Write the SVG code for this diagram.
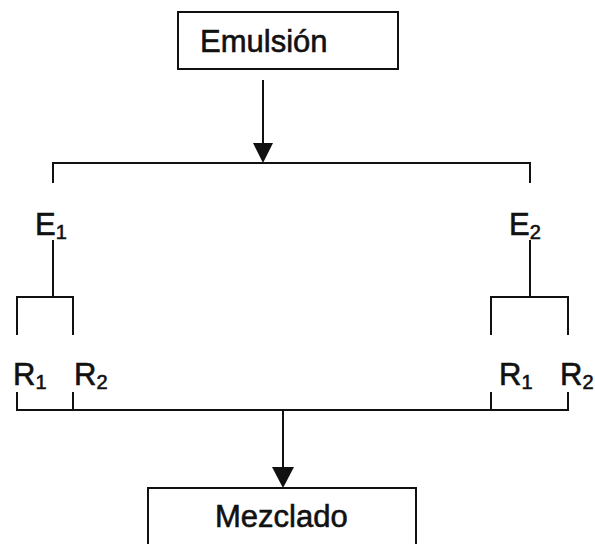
<svg xmlns="http://www.w3.org/2000/svg" width="595" height="544" viewBox="0 0 595 544">
  <style>
    .box { fill: #fff; stroke: #111; stroke-width: 2; }
    .ln { fill: none; stroke: #111; stroke-width: 2; }
    .t { font-family: "Liberation Sans", Arial, sans-serif; font-size: 31px; fill: #111; stroke: #111; stroke-width: 0.6; }
    .sub { font-size: 20px; }
  </style>
  <rect width="595" height="544" fill="#fff"/>

  <!-- connectors -->
  <g id="connectors">
    <!-- top arrow into the split bar -->
    <line class="ln" x1="263" y1="80" x2="263" y2="143"/>
    <path d="M253,143 L273,143 L263,163 Z" fill="#111"/>
    <!-- split into E1 / E2 -->
    <path class="ln" d="M53,183 V163 H530 V183"/>
    <!-- E1 branch -->
    <line class="ln" x1="53" y1="240" x2="53" y2="297"/>
    <path class="ln" d="M17,335 V297 H73 V335"/>
    <!-- E2 branch -->
    <line class="ln" x1="530" y1="240" x2="530" y2="297"/>
    <path class="ln" d="M491,335 V297 H568 V335"/>
    <!-- join bar -->
    <path class="ln" d="M17,392 V410 H568 V392"/>
    <line class="ln" x1="73" y1="392" x2="73" y2="410"/>
    <line class="ln" x1="491" y1="392" x2="491" y2="410"/>
    <!-- bottom arrow into Mezclado -->
    <line class="ln" x1="283" y1="410" x2="283" y2="468"/>
    <path d="M272,467 L294,467 L283,488 Z" fill="#111"/>
  </g>

  <g id="emulsion">
    <rect class="box" x="178" y="12" width="220" height="57"/>
    <text class="t" x="200" y="52">Emulsión</text>
  </g>

  <g id="e1">
    <text class="t" x="35" y="235">E<tspan class="sub" dy="4">1</tspan></text>
  </g>
  <g id="e2">
    <text class="t" x="509" y="235">E<tspan class="sub" dy="4">2</tspan></text>
  </g>

  <g id="e1-r1">
    <text class="t" x="13" y="385">R<tspan class="sub" dy="4">1</tspan></text>
  </g>
  <g id="e1-r2">
    <text class="t" x="74" y="385">R<tspan class="sub" dy="4">2</tspan></text>
  </g>
  <g id="e2-r1">
    <text class="t" x="499" y="385">R<tspan class="sub" dy="4">1</tspan></text>
  </g>
  <g id="e2-r2">
    <text class="t" x="560" y="385">R<tspan class="sub" dy="4">2</tspan></text>
  </g>

  <g id="mezclado">
    <rect class="box" x="148" y="488" width="268" height="70"/>
    <text class="t" x="215" y="527">Mezclado</text>
  </g>
</svg>
